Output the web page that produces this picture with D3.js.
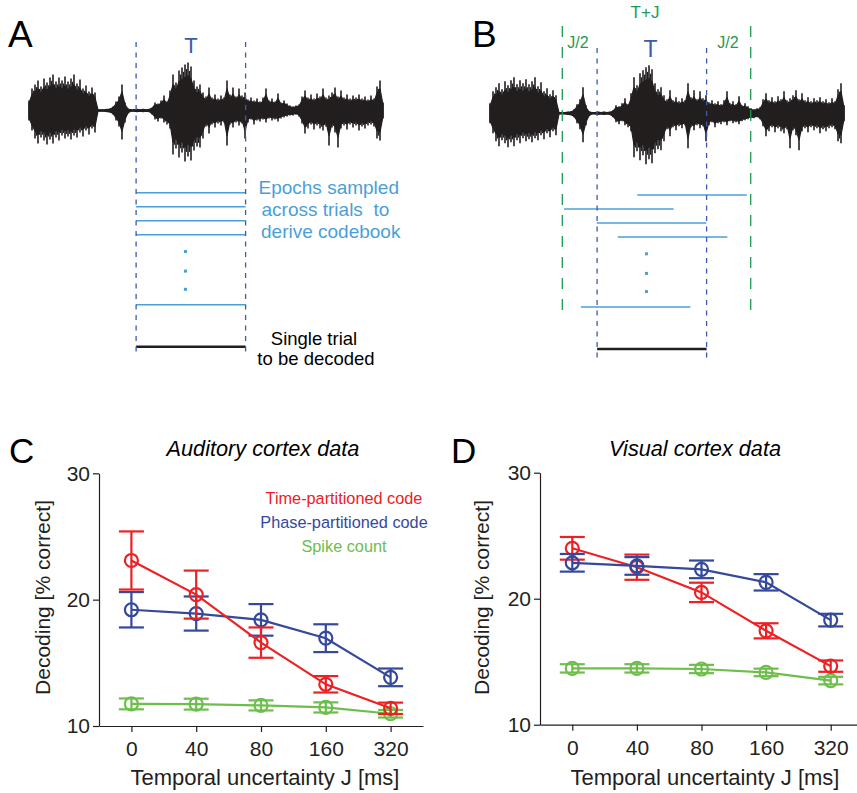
<!DOCTYPE html>
<html>
<head>
<meta charset="utf-8">
<script src="https://cdn.jsdelivr.net/npm/d3@7"></script>
<style>
  body { margin: 0; background: #fff; }
  svg { font-family: "Liberation Sans", Arial, Helvetica, sans-serif; display: block; }
  .axis path, .axis line { stroke: #231f20; stroke-width: 1.2; }
  .axis text { font-size: 21px; fill: #231f20; }
</style>
</head>
<body>
<div id="figure"></div>
<script>
///// Data

// sound waveform envelope, one sample every 10 ms (amplitude above / below the midline)
let waveTop = [10, 22, 26, 30, 24, 32, 28, 33, 36, 29, 33, 30, 34, 29, 32, 36, 27, 31, 22, 25,
    19, 23, 18, 1, 1, 1, 1.5, 2, 4, 9, 14, 26, 8, 2, 1, 1, 1.5, 1, 1.5, 1,
    1.5, 3, 8, 7, 10, 15, 9, 20, 36, 28, 40, 43, 46, 48, 44, 30, 24, 26, 18, 14,
    23, 13, 16, 12, 15, 13, 30, 16, 23, 14, 22, 15, 18, 11, 13, 10, 12, 9, 13, 22,
    10, 12, 9, 17, 8, 10, 7, 5, 4, 5, 6, 14, 20, 13, 16, 12, 17, 14, 22, 13,
    15, 18, 23, 14, 20, 13, 16, 12, 15, 13, 16, 12, 14, 11, 15, 12, 24, 30, 8];
let waveBot = [10, 20, 28, 33, 27, 30, 34, 29, 33, 27, 30, 25, 28, 26, 29, 25, 27, 22, 26, 20,
    24, 18, 22, 1, 1, 1, 1.5, 2, 4, 10, 16, 29, 12, 3, 1, 1, 1.5, 1, 1.5, 1,
    1.5, 4, 9, 11, 8, 12, 14, 18, 44, 38, 47, 42, 51, 46, 50, 40, 36, 37, 28, 16,
    23, 14, 17, 13, 15, 12, 35, 14, 17, 12, 15, 13, 28, 12, 9, 14, 10, 11, 9, 12,
    8, 10, 9, 11, 8, 7, 6, 5, 5, 4, 6, 13, 23, 18, 14, 19, 15, 18, 20, 16,
    35, 17, 22, 37, 18, 15, 19, 14, 17, 15, 20, 16, 18, 15, 14, 16, 28, 30, 8];

// analysis window T and jittered window T+J (ms)
let windowT = [357, 722];
let windowTJ = [241, 869];

// epochs sampled across trials: start time (ms) and row
let epochStartsA = [357, 357, 357, 357, 357];
let epochStartsB = [491, 247, 356, 426, 303];
let epochRows = [0, 1, 2, 3, 8];
let dotRows = [4.2, 5.6, 6.9];
let decodedRow = 11;

// decoding performance
let jitterLabels = ["0", "40", "80", "160", "320"];

let audTime = [23.1, 20.4, 16.6, 13.3, 11.4];
let audTimeErr = [2.3, 1.9, 1.2, 0.65, 0.45];
let audPhase = [19.2, 18.9, 18.4, 16.95, 13.85];
let audPhaseErr = [1.4, 1.35, 1.25, 1.1, 0.7];
let audCount = [11.75, 11.73, 11.63, 11.47, 10.97];
let audCountErr = [0.43, 0.43, 0.4, 0.4, 0.3];

let visTime = [24.0, 22.5, 20.5, 17.45, 14.65];
let visTimeErr = [0.9, 1.0, 0.77, 0.6, 0.45];
let visPhase = [22.85, 22.6, 22.33, 21.3, 18.3];
let visPhaseErr = [0.7, 0.7, 0.7, 0.65, 0.5];
let visCount = [14.47, 14.47, 14.42, 14.15, 13.5];
let visCountErr = [0.33, 0.33, 0.33, 0.3, 0.3];

let yTicks = [10, 20, 30];
let legendLabels = ["Time-partitioned code", "Phase-partitioned code", "Spike count"];

///// Styles

let red = "#ed2024", blue = "#34489c", green = "#6dbe4b";
let ink = "#231f20";
let winBlue = "#3c5ba9", epochBlue = "#4a9fd8", jGreen = "#1e9a55";

let svg = d3.select("#figure")
    .append("svg")
    .attr("width", 857)
    .attr("height", 793);

///// Panels A and B

let sampleMs = 10;
let waveData = waveTop.map(function(d, i) { return { t: i * sampleMs, top: d, bot: waveBot[i] }; });
let tMax = (waveTop.length - 1) * sampleMs;
let bodyShare = 0.72; // dense core of the trace, spikes reach the full envelope

function drawWave(left, mid) {
    let x = d3.scaleLinear().domain([0, tMax]).range([left, left + 354]);
    let y = d3.scaleLinear().domain([-50, 50]).range([mid + 50, mid - 50]);
    let area = d3.area()
        .x(function(d) { return x(d.t); })
        .y0(function(d) { return y(-d.bot * bodyShare); })
        .y1(function(d) { return y(d.top * bodyShare); });
    let g = svg.append("g");
    g.append("path")
        .attr("d", area(waveData))
        .attr("fill", ink)
        .attr("stroke", ink)
        .attr("stroke-width", 1.2)
        .attr("stroke-linejoin", "round");
    // individual spikes
    g.selectAll(null)
        .data(waveData)
        .enter().append("line")
        .attr("x1", function(d) { return x(d.t); })
        .attr("x2", function(d) { return x(d.t); })
        .attr("y1", function(d) { return y(d.top); })
        .attr("y2", function(d) { return y(-d.bot); })
        .attr("stroke", ink)
        .attr("stroke-width", 1.6);
    // in-between spikes, bounded by the lower neighbour, keeps the trace dense
    g.selectAll(null)
        .data(waveData.slice(1))
        .enter().append("line")
        .attr("x1", function(d) { return x(d.t - sampleMs / 2); })
        .attr("x2", function(d) { return x(d.t - sampleMs / 2); })
        .attr("y1", function(d, i) { return y(Math.min(d.top, waveData[i].top) * 0.9); })
        .attr("y2", function(d, i) { return y(-Math.min(d.bot, waveData[i].bot) * 0.9); })
        .attr("stroke", ink)
        .attr("stroke-width", 1.2);
    return x;
}

function drawEpochs(x, starts, rowY) {
    let len = windowT[1] - windowT[0];
    svg.selectAll(null)
        .data(starts)
        .enter().append("line")
        .attr("x1", function(d) { return x(d); })
        .attr("x2", function(d) { return x(d + len); })
        .attr("y1", function(d, i) { return rowY(epochRows[i]); })
        .attr("y2", function(d, i) { return rowY(epochRows[i]); })
        .attr("stroke", epochBlue)
        .attr("stroke-width", 1.4);
    let mid = (windowT[0] + windowT[1]) / 2 - 18;
    svg.selectAll(null)
        .data(dotRows)
        .enter().append("rect")
        .attr("x", x(mid) - 1.5)
        .attr("y", function(d) { return rowY(d) - 1.5; })
        .attr("width", 3)
        .attr("height", 3)
        .attr("fill", epochBlue);
    svg.append("line")
        .attr("x1", x(windowT[0])).attr("x2", x(windowT[1]))
        .attr("y1", rowY(decodedRow)).attr("y2", rowY(decodedRow))
        .attr("stroke", ink)
        .attr("stroke-width", 2.6);
}

function vline(xp, y1, y2, color, dash) {
    svg.append("line")
        .attr("x1", xp).attr("x2", xp)
        .attr("y1", y1).attr("y2", y2)
        .attr("stroke", color)
        .attr("stroke-width", 1.3)
        .attr("stroke-dasharray", dash);
}

function label(txt, xp, yp, size, color, anchor, extra) {
    let t = svg.append("text")
        .attr("x", xp).attr("y", yp)
        .attr("font-size", size)
        .attr("fill", color)
        .attr("text-anchor", anchor || "start")
        .style("white-space", "pre")
        .text(txt);
    if (extra) t.attr("font-style", extra);
    return t;
}

// A
let xA = drawWave(29, 110.5);
let rowA = d3.scaleLinear().domain([0, 1]).range([192.7, 206.7]);
drawEpochs(xA, epochStartsA, rowA);
windowT.forEach(function(t) { vline(xA(t), 42, 357, winBlue, "5,5.5"); });
label("A", 8, 47, 37, "#000");
label("T", 191, 52.5, 22, winBlue, "middle");
label("Epochs sampled", 258.5, 193.5, 19, epochBlue);
label("across trials  to", 261.5, 216, 19, epochBlue);
label("derive codebook", 261, 238, 19, epochBlue);
label("Single trial", 314, 344.5, 18.5, "#000", "middle");
label("to be decoded", 316, 364.5, 18.5, "#000", "middle");

// B
let xB = drawWave(490, 113.3);
let rowB = d3.scaleLinear().domain([0, 1]).range([195, 209]);
drawEpochs(xB, epochStartsB, rowB);
windowT.forEach(function(t) { vline(xB(t), 48, 362, winBlue, "5,5.5"); });
windowTJ.forEach(function(t) { vline(xB(t), 26, 313, jGreen, "11,10"); });
label("B", 472, 47, 37, "#000");
label("T", 650.5, 57, 23, winBlue, "middle");
label("T+J", 645, 18.3, 17, jGreen, "middle");
label("J/2", 578, 48.3, 16, jGreen, "middle");
label("J/2", 728, 48.3, 16, jGreen, "middle");

///// Panels C and D

function drawPlot(opt) {
    let x = d3.scalePoint().domain(jitterLabels).range([opt.left, opt.right]).padding(0.5);
    let y = d3.scaleLinear().domain([10, 30]).range([opt.bottom, opt.top]);

    svg.append("g")
        .attr("class", "axis")
        .attr("transform", "translate(" + opt.left + ",0)")
        .call(d3.axisLeft(y).tickValues(yTicks).tickSize(6).tickSizeOuter(0).tickPadding(3));

    svg.append("g")
        .attr("class", "axis")
        .attr("transform", "translate(0," + opt.bottom + ")")
        .call(d3.axisBottom(x).tickSize(6).tickSizeOuter(0).tickPadding(9));

    svg.selectAll(".axis path.domain").attr("fill", "none");

    opt.series.forEach(function(s) {
        let pts = s.values.map(function(v, i) { return { k: jitterLabels[i], v: v, e: s.err[i] }; });
        let line = d3.line()
            .x(function(d) { return x(d.k); })
            .y(function(d) { return y(d.v); });
        let g = svg.append("g")
            .attr("stroke", s.color)
            .attr("stroke-width", 2.2)
            .attr("fill", "none");
        g.append("path").attr("d", line(pts));
        let bars = g.selectAll(null).data(pts).enter().append("g");
        bars.append("line")
            .attr("x1", function(d) { return x(d.k); })
            .attr("x2", function(d) { return x(d.k); })
            .attr("y1", function(d) { return y(d.v - d.e); })
            .attr("y2", function(d) { return y(d.v + d.e); });
        [-1, 1].forEach(function(sign) {
            bars.append("line")
                .attr("x1", function(d) { return x(d.k) - 12.5; })
                .attr("x2", function(d) { return x(d.k) + 12.5; })
                .attr("y1", function(d) { return y(d.v + sign * d.e); })
                .attr("y2", function(d) { return y(d.v + sign * d.e); });
        });
        bars.append("circle")
            .attr("cx", function(d) { return x(d.k); })
            .attr("cy", function(d) { return y(d.v); })
            .attr("r", 6.5);
    });

    label(opt.letter, opt.letterX, 463, 35, "#000");
    label(opt.title, opt.titleX, 456, 21.7, "#000", "middle", "italic");
    label("Temporal uncertainty J [ms]", opt.xTitleX, 785, 22, ink, "middle");
    label("Decoding [% correct]", 0, 0, 21, ink, "middle")
        .attr("transform", "translate(" + opt.yTitleX + ",597.5) rotate(-90)");
}

drawPlot({
    left: 99, right: 423, top: 473.3, bottom: 726,
    letter: "C", letterX: 9, title: "Auditory cortex data", titleX: 263,
    xTitleX: 265, yTitleX: 49.5,
    series: [
        { values: audCount, err: audCountErr, color: green },
        { values: audPhase, err: audPhaseErr, color: blue },
        { values: audTime, err: audTimeErr, color: red }
    ]
});

let legendColors = [red, blue, green];
legendLabels.forEach(function(t, i) {
    label(t, 344, 504 + i * 24, 16.3, legendColors[i], "middle");
});

drawPlot({
    left: 540, right: 863, top: 472.7, bottom: 724.7,
    letter: "D", letterX: 451, title: "Visual cortex data", titleX: 695,
    xTitleX: 705, yTitleX: 488.5,
    series: [
        { values: visCount, err: visCountErr, color: green },
        { values: visTime, err: visTimeErr, color: red },
        { values: visPhase, err: visPhaseErr, color: blue }
    ]
});
</script>
</body>
</html>
